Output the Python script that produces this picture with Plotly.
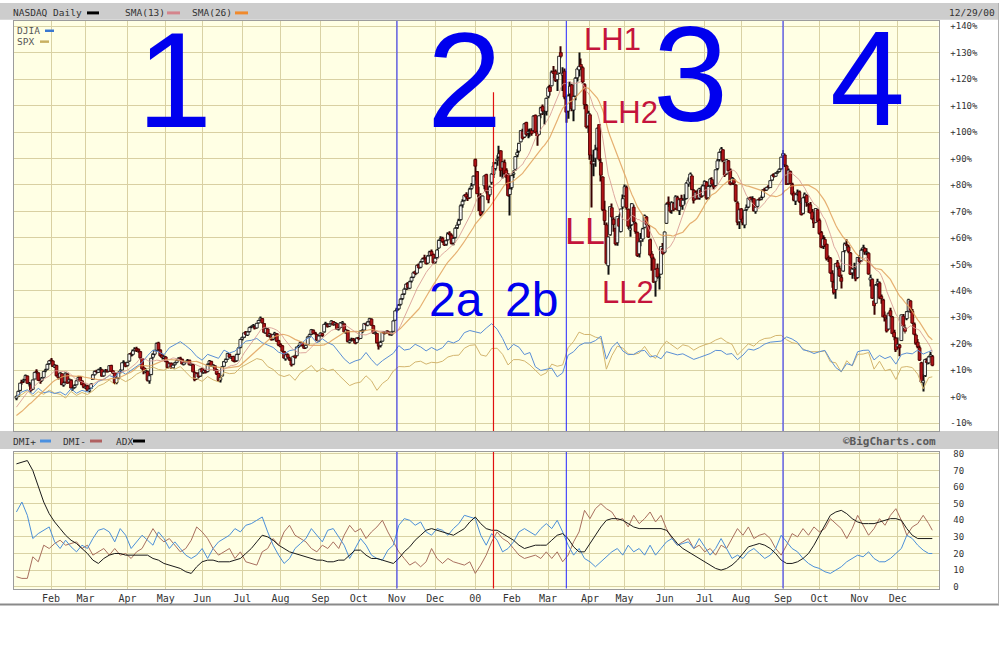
import numpy as np
import pandas as pd
import plotly.graph_objects as go

# ---------------- data (percent change vs. first close) ----------------
holidays = ['1999-01-18', '1999-02-15', '1999-04-02', '1999-05-31', '1999-07-05', '1999-09-06',
            '1999-11-25', '1999-12-24', '2000-01-17', '2000-02-21', '2000-04-21', '2000-05-29',
            '2000-07-04', '2000-09-04', '2000-11-23', '2000-12-25']

nq_close_prior = [-9.6, -9.2, -10.1, -10.8, -11.0, -12.4, -10.6, -9.3, -9.5, -8.9, -10.4, -9.8, -12.0,
                  -9.9, -9.2, -7.4, -6.0, -4.1, -4.3, -2.6, -2.2, -1.8, -1.5, -1.6, -0.7]

nq_open = [
    -0.6, 0.2, 2.4, 5.4, 5.9, 6.5, 7.8, 4.8, 4.5, 2.8, 6.7, 9.6, 9.0, 6.0, 6.2, 7.3, 9.8, 10.4, 12.5,
    13.8, 13.5, 11.2, 11.8, 8.2, 7.4, 8.7, 4.4, 5.6, 8.6, 5.6, 6.2, 3.0, 3.5, 4.5, 6.3, 7.4, 6.0, 4.9,
    3.4, 4.1, 2.2, 3.3, 6.5, 8.3, 9.6, 9.2, 10.3, 10.2, 7.9, 9.5, 10.1, 9.6, 11.8, 9.8, 9.0, 5.3, 7.1, 9.4, 10.1, 12.9, 12.7,
    11.8, 13.5, 16.3, 16.0, 17.5, 18.2, 17.9, 17.0, 14.4, 10.9, 9.4, 9.6, 6.0, 8.4, 14.9, 16.1, 17.6, 20.3, 17.6, 15.7, 14.6,
    15.0, 13.1, 11.2, 12.6, 10.9, 12.1, 12.9, 13.7, 14.6, 14.1, 12.2, 12.9, 13.2, 13.8, 11.9, 12.1, 9.2, 6.7, 8.9, 7.8,
    10.6, 9.1, 10.0, 9.5, 12.5, 13.3, 11.4, 11.7, 10.2, 8.8, 6.3, 7.9, 11.5, 13.1, 14.2, 16.0, 14.6, 15.2, 13.6, 13.6, 16.1, 18.6,
    21.8, 22.5, 24.4, 23.3, 24.6, 26.3, 26.8, 26.6, 26.0, 27.9, 29.0, 29.5, 27.6, 24.1, 25.6, 23.1, 23.5, 21.8, 23.6, 23.8, 21.2,
    19.7, 19.2, 17.0, 14.3, 15.9, 14.6, 13.7, 12.3, 15.4, 15.5, 18.9, 19.3, 20.4, 19.1, 18.5, 19.8, 22.7, 23.6, 25.1, 24.1, 23.5, 21.1,
    23.1, 23.8, 24.5, 27.5, 27.4, 26.7, 27.6, 28.4, 27.3, 27.6, 25.5, 26.2, 27.7, 27.5, 24.3, 25.0, 20.6, 21.5, 21.8, 21.2, 20.5,
    22.3, 22.0, 24.6, 25.2, 27.4, 27.0, 28.4, 29.3, 26.8, 23.8, 23.9, 20.2, 19.3, 21.0, 24.5, 24.1, 24.7, 24.0, 23.4, 24.7, 28.9,
    32.6, 33.2, 34.9, 37.1, 38.9, 40.8, 42.7, 41.0, 43.7, 45.2, 47.2, 46.7, 49.8, 48.9, 51.1, 52.4, 52.1, 50.5, 53.4, 54.9, 53.7,
    50.9, 52.6, 56.2, 59.3, 59.9, 58.4, 57.6, 59.3, 61.8, 61.0, 58.1, 60.2, 63.9, 65.1, 66.9, 72.5, 74.2, 76.5, 75.6, 75.2, 78.7, 80.1,
    89.6, 85.0, 76.0, 75.1, 70.0, 79.7, 83.9, 77.4, 76.3, 81.0, 84.0, 86.2, 89.2, 90.6, 92.9, 86.4, 88.5, 85.6, 83.8, 76.4,
    79.0, 84.0, 85.9, 91.3, 92.8, 96.3, 100.2, 98.1, 103.6, 99.6, 99.9, 100.6, 100.6, 106.3, 100.2, 99.1, 106.9, 109.6, 107.0, 107.8,
    113.5, 117.0, 117.5, 122.9, 123.0, 119.8, 122.3, 130.0, 121.5, 123.0, 112.5, 107.9, 114.4, 117.8, 108.3, 113.6, 120.5, 123.5, 125.5, 124.3, 118.0, 110.0, 102.3,
    106.5, 89.0, 88.0, 90.1, 94.0, 102.8, 88.5, 83.0, 70.5, 64.9, 49.5, 61.2, 71.4, 67.0, 63.5, 58.2, 67.3, 62.4, 71.7,
    75.9, 79.0, 70.8, 63.0, 65.0, 71.6, 65.5, 62.0, 54.0, 58.9, 59.6, 64.0, 67.9, 64.6, 59.3, 53.9, 52.1, 43.6, 48.5, 45.0, 46.3, 56.0,
    54.6, 65.5, 73.5, 72.6, 70.4, 73.0, 71.2, 75.2, 70.3, 74.9, 72.3, 74.5, 74.9, 80.4, 81.0, 83.4, 78.0, 74.8, 77.6, 75.1, 78.1, 75.9,
    79.9, 81.0, 75.2, 79.9, 82.0, 80.1, 79.8, 86.2, 89.6, 92.6, 93.3, 88.4, 84.2, 89.1, 85.6, 80.8, 82.0, 80.0, 73.2, 66.1,
    70.9, 67.2, 64.9, 70.8, 71.7, 75.2, 74.0, 74.8, 70.0, 71.9, 74.7, 74.6, 75.4, 78.4, 78.1, 79.4, 79.0, 81.9, 83.9, 83.3, 84.6, 85.1, 86.1,
    91.0, 91.3, 87.2, 80.5, 85.1, 80.2, 76.9, 73.9, 76.7, 77.4, 73.2, 69.3, 75.5, 76.1, 72.6, 72.5, 69.8, 67.3, 65.9, 70.6,
    66.6, 62.0, 56.9, 59.4, 57.6, 52.6, 52.2, 46.5, 43.2, 40.5, 50.6, 48.5, 45.0, 47.5, 55.2, 57.5, 56.6, 54.3, 46.8, 48.1, 48.2, 45.0,
    52.3, 51.4, 55.8, 56.0, 54.4, 54.2, 44.1, 44.3, 36.2, 35.3, 42.7, 43.0, 37.9, 36.5, 30.8, 29.4, 25.6, 32.5, 30.1, 24.3, 22.1,
    18.9, 19.5, 21.2, 30.4, 26.0, 29.5, 32.4, 36.2, 32.3, 27.4, 23.3, 20.6, 18.5, 12.8, 5.3, 8.0, 13.6, 12.8, 15.3, 15.2,
]
nq_high = [
    0.5, 2.3, 5.3, 6.4, 6.8, 8.4, 8.0, 5.6, 4.7, 6.5, 9.4, 10.4, 9.2, 6.6, 7.4, 9.7, 10.6, 12.5, 13.9,
    14.6, 13.9, 12.4, 12.1, 8.9, 9.2, 8.9, 5.8, 9.1, 8.8, 6.9, 6.6, 4.1, 4.7, 6.3, 7.7, 7.8, 6.3, 5.3,
    4.6, 4.5, 3.3, 5.1, 8.5, 9.9, 10.2, 10.6, 11.2, 10.6, 9.6, 10.5, 10.3, 12.0, 12.1, 10.1, 9.3, 7.3, 9.5, 10.5, 13.0, 13.8, 12.9,
    13.3, 16.4, 16.9, 17.8, 18.7, 18.9, 18.2, 17.3, 14.6, 11.5, 10.8, 9.8, 9.0, 14.7, 16.4, 17.7, 20.5, 20.8, 17.9, 16.2, 15.8,
    15.4, 13.5, 12.9, 12.9, 12.3, 13.0, 14.0, 14.9, 15.1, 14.3, 13.2, 13.6, 14.2, 14.0, 12.7, 12.4, 9.5, 9.1, 9.2, 10.6,
    10.9, 10.3, 10.2, 12.5, 13.9, 13.6, 12.3, 11.9, 10.5, 9.0, 7.6, 11.6, 13.5, 14.4, 16.6, 16.3, 15.4, 15.5, 14.0, 16.2, 18.7, 21.9,
    22.7, 24.3, 24.8, 24.7, 26.4, 26.9, 27.5, 26.8, 27.9, 29.0, 30.3, 29.7, 27.8, 26.2, 25.9, 24.1, 23.8, 23.7, 24.5, 24.0, 21.5,
    20.3, 19.5, 17.3, 16.3, 16.4, 15.1, 14.0, 15.5, 15.9, 18.9, 19.6, 20.8, 20.7, 19.3, 19.7, 22.8, 23.8, 25.6, 25.4, 24.5, 23.8, 23.2,
    24.3, 24.2, 27.6, 28.3, 27.7, 27.7, 28.9, 28.6, 28.2, 27.9, 26.3, 28.2, 28.6, 27.7, 25.6, 25.3, 21.7, 22.3, 22.2, 21.5, 22.4,
    22.6, 25.0, 25.6, 27.9, 28.0, 28.5, 29.8, 29.6, 27.1, 24.8, 24.1, 20.6, 21.1, 24.5, 24.8, 25.0, 25.1, 24.5, 24.7, 28.9, 32.7,
    33.6, 35.0, 37.2, 39.0, 41.2, 42.9, 43.3, 43.8, 45.4, 47.3, 47.7, 50.0, 50.3, 51.3, 52.5, 53.6, 52.8, 53.5, 55.1, 55.6, 54.1,
    52.8, 55.9, 59.4, 60.6, 60.4, 59.1, 59.4, 62.1, 62.5, 61.6, 60.3, 64.1, 65.9, 67.2, 72.6, 74.6, 76.5, 77.2, 76.3, 78.9, 80.7, 83.6,
    90.0, 85.3, 79.3, 76.9, 76.0, 83.6, 84.2, 78.8, 79.8, 84.4, 88.7, 88.8, 91.2, 94.8, 93.1, 89.0, 89.6, 86.3, 84.4, 78.8,
    83.9, 85.6, 90.9, 93.5, 95.9, 100.7, 101.2, 103.4, 103.9, 101.0, 101.3, 101.4, 106.3, 106.6, 100.6, 106.4, 109.5, 110.4, 108.3, 113.0,
    117.4, 117.9, 123.2, 124.9, 123.6, 122.1, 128.8, 132.4, 124.5, 124.0, 113.5, 114.3, 119.0, 118.2, 113.8, 120.8, 124.4, 130.0, 127.8, 124.8, 118.4, 110.6, 108.0,
    107.2, 91.5, 93.3, 95.2, 101.7, 103.0, 90.1, 83.3, 74.0, 65.8, 60.5, 71.9, 73.0, 67.8, 63.8, 68.2, 68.8, 71.0, 76.4,
    80.2, 79.8, 71.1, 66.0, 73.2, 72.5, 66.1, 62.4, 58.9, 61.8, 63.8, 68.8, 68.3, 65.0, 59.8, 55.0, 52.9, 48.4, 50.3, 46.6, 56.9, 58.1,
    62.4, 73.3, 75.6, 73.3, 73.8, 73.6, 76.1, 75.9, 74.8, 76.3, 74.9, 76.5, 81.1, 82.8, 84.7, 84.0, 78.5, 77.8, 78.2, 78.9, 79.4, 80.2,
    81.8, 81.5, 80.0, 82.6, 82.9, 81.0, 85.9, 89.8, 92.6, 94.3, 93.6, 88.8, 89.8, 89.4, 86.2, 83.0, 82.6, 80.3, 73.8, 71.1,
    71.3, 68.4, 70.7, 72.6, 75.3, 75.6, 75.7, 75.0, 72.1, 74.5, 75.3, 76.0, 78.4, 78.9, 79.3, 80.0, 81.8, 84.0, 84.4, 84.8, 85.4, 86.3, 90.7,
    93.2, 91.9, 87.6, 86.2, 85.4, 80.8, 77.6, 76.8, 78.3, 77.9, 73.4, 75.5, 77.1, 76.4, 73.2, 73.6, 70.9, 68.4, 71.3, 70.9,
    67.3, 62.6, 61.0, 60.3, 57.8, 53.3, 52.8, 47.8, 44.3, 50.4, 51.6, 49.6, 46.2, 54.9, 58.3, 59.5, 57.3, 54.7, 48.6, 50.6, 48.5, 52.8,
    53.5, 56.0, 57.4, 56.5, 56.1, 54.6, 46.2, 44.7, 37.0, 42.6, 44.6, 43.5, 38.6, 37.0, 32.2, 30.3, 31.8, 33.6, 30.5, 25.3, 22.6,
    22.4, 19.9, 31.1, 31.2, 27.3, 32.4, 37.0, 36.4, 33.1, 28.0, 23.9, 21.8, 19.3, 13.2, 8.6, 14.3, 14.5, 15.3, 16.9, 15.8,
]
nq_low = [
    -1.3, -0.1, 2.1, 4.5, 5.2, 6.2, 4.8, 3.9, 1.6, 2.5, 6.5, 8.7, 5.9, 4.9, 5.6, 7.0, 9.2, 10.1, 12.1,
    13.0, 11.2, 10.8, 7.6, 6.5, 7.0, 4.3, 3.8, 5.3, 4.9, 5.3, 3.0, 2.2, 3.1, 4.3, 6.0, 5.6, 4.3, 3.2,
    2.9, 2.1, 1.6, 3.0, 6.3, 8.0, 8.7, 9.0, 9.9, 7.5, 7.5, 9.1, 9.1, 9.4, 9.3, 8.6, 4.8, 4.7, 6.8, 8.9, 10.0, 12.3, 11.1,
    11.4, 13.2, 15.2, 15.5, 17.1, 16.9, 16.6, 14.2, 10.1, 8.5, 8.9, 5.7, 4.9, 8.1, 14.1, 15.6, 17.3, 17.4, 15.0, 14.1, 14.2,
    13.0, 10.6, 10.8, 10.5, 10.6, 11.7, 12.6, 13.4, 14.0, 12.1, 11.8, 12.6, 12.9, 11.8, 11.6, 9.1, 5.8, 6.3, 7.1, 7.5,
    8.8, 8.7, 8.8, 9.2, 12.1, 11.3, 11.0, 9.7, 8.2, 5.6, 5.4, 7.6, 11.2, 12.7, 14.0, 14.6, 14.2, 13.1, 12.9, 13.2, 15.8, 18.3,
    21.2, 22.2, 23.0, 22.9, 24.3, 25.9, 26.3, 25.4, 25.7, 27.6, 28.7, 27.6, 23.9, 23.8, 22.6, 22.4, 21.2, 21.3, 23.2, 20.7, 19.1,
    18.6, 16.9, 14.2, 13.6, 14.5, 13.5, 11.4, 11.9, 14.4, 15.2, 18.4, 19.0, 19.0, 18.0, 18.1, 19.5, 22.3, 23.3, 23.6, 23.4, 21.1, 20.6,
    22.8, 22.6, 24.2, 27.0, 26.1, 26.3, 27.3, 26.8, 26.9, 25.3, 25.0, 25.9, 27.4, 24.2, 23.8, 20.5, 20.1, 20.9, 20.9, 19.8, 20.2,
    21.3, 21.8, 24.1, 24.9, 26.8, 26.6, 28.1, 26.8, 23.7, 23.4, 20.1, 17.8, 18.6, 20.8, 23.5, 23.7, 23.8, 23.1, 23.0, 24.5, 28.7,
    31.8, 32.7, 34.4, 36.5, 38.4, 40.3, 40.5, 40.6, 43.1, 44.8, 45.9, 46.3, 48.2, 48.5, 50.7, 51.7, 49.9, 50.1, 53.0, 53.1, 50.1,
    50.3, 52.2, 55.9, 58.8, 58.1, 56.9, 57.0, 58.9, 60.6, 57.5, 57.2, 59.8, 63.4, 64.7, 66.5, 71.4, 73.7, 74.6, 73.9, 74.8, 78.2, 79.8,
    81.7, 76.5, 70.2, 68.2, 69.2, 78.4, 76.8, 73.1, 75.5, 80.1, 82.6, 85.5, 87.3, 90.0, 83.1, 82.4, 83.9, 79.9, 75.5, 68.5,
    78.2, 82.6, 85.4, 90.5, 92.1, 96.0, 97.1, 97.7, 98.4, 97.6, 98.2, 98.6, 100.1, 99.5, 94.8, 98.7, 105.2, 106.4, 102.8, 106.2,
    112.8, 113.8, 117.2, 120.4, 118.9, 115.5, 121.9, 127.9, 115.5, 112.4, 103.5, 105.0, 112.9, 107.8, 104.1, 112.0, 119.1, 121.0, 123.4, 118.3, 108.6, 101.3, 99.6,
    89.5, 71.5, 83.3, 86.9, 92.8, 88.9, 81.3, 70.2, 64.9, 50.0, 46.1, 60.8, 66.5, 62.3, 57.1, 57.0, 63.9, 62.0, 70.9,
    75.5, 70.6, 63.4, 60.4, 64.5, 65.5, 61.6, 52.8, 52.6, 56.8, 58.5, 63.5, 64.6, 60.0, 53.0, 47.6, 43.0, 37.8, 44.6, 40.5, 46.0, 53.5,
    54.2, 65.2, 71.7, 69.4, 69.1, 70.1, 70.7, 70.3, 68.6, 71.8, 70.6, 72.6, 74.6, 79.3, 80.4, 78.0, 73.0, 74.4, 74.5, 74.4, 75.2, 75.6,
    79.5, 74.4, 74.6, 79.1, 79.6, 78.4, 79.5, 85.6, 88.9, 92.0, 88.6, 83.0, 83.9, 85.0, 79.9, 80.1, 80.0, 73.5, 64.8, 63.4,
    66.5, 64.8, 63.6, 70.2, 71.3, 73.8, 73.5, 70.0, 69.1, 71.5, 74.0, 74.2, 75.1, 77.6, 77.8, 78.6, 78.8, 81.6, 82.7, 83.0, 84.2, 84.8, 85.8,
    90.4, 86.8, 80.0, 80.1, 80.3, 75.9, 73.8, 72.4, 75.8, 73.2, 68.5, 68.9, 73.9, 71.8, 69.5, 69.2, 66.7, 63.7, 65.7, 66.0,
    61.2, 56.1, 55.8, 56.6, 51.5, 50.9, 46.4, 41.2, 38.6, 37.0, 47.9, 45.2, 40.9, 47.2, 54.5, 56.3, 54.2, 46.0, 44.6, 45.7, 43.6, 44.7,
    50.0, 51.0, 54.9, 53.6, 53.4, 46.1, 41.6, 36.9, 31.0, 35.0, 41.4, 36.8, 35.1, 30.0, 28.4, 24.3, 25.3, 30.1, 23.6, 21.3, 16.9,
    17.9, 15.3, 21.0, 26.4, 23.9, 28.9, 32.1, 31.6, 27.5, 23.2, 19.6, 18.3, 13.5, 5.2, 2.0, 7.4, 12.1, 12.3, 14.9, 11.5,
]
nq_close = [
    0.0, 2.0, 5.1, 5.3, 6.2, 8.0, 5.1, 4.9, 2.4, 6.3, 9.1, 9.4, 6.2, 5.9, 7.0, 9.5, 10.1, 12.2, 13.5,
    13.7, 11.5, 11.9, 7.9, 7.2, 8.9, 4.6, 5.2, 8.9, 5.1, 6.4, 3.3, 3.3, 4.2, 6.0, 7.2, 5.9, 4.6, 3.6,
    3.9, 2.4, 2.8, 4.8, 8.2, 9.5, 9.4, 10.1, 10.5, 7.8, 9.3, 9.9, 9.4, 11.7, 9.6, 9.1, 5.1, 7.0, 9.1, 9.6, 12.8, 12.9, 11.5,
    12.9, 16.1, 16.1, 17.3, 18.0, 17.4, 17.3, 14.7, 10.6, 9.6, 9.9, 6.2, 7.9, 14.5, 15.9, 17.3, 20.1, 17.8, 15.5, 14.8, 15.1,
    13.3, 11.0, 12.5, 10.8, 11.9, 12.7, 13.6, 14.5, 14.3, 12.4, 12.8, 13.1, 13.7, 12.1, 12.3, 9.4, 6.4, 8.7, 7.5, 10.4,
    9.3, 9.8, 9.2, 12.2, 13.5, 11.6, 11.9, 10.0, 8.6, 6.1, 7.2, 11.3, 13.2, 14.0, 16.3, 14.9, 15.0, 13.5, 13.3, 15.9, 18.4, 21.6,
    22.4, 24.1, 23.5, 24.4, 26.1, 26.5, 26.9, 25.9, 27.7, 28.8, 29.7, 27.9, 24.3, 25.8, 22.9, 23.7, 21.5, 23.4, 24.0, 21.0, 19.5,
    19.0, 17.2, 14.6, 15.8, 14.9, 13.9, 12.0, 15.2, 14.8, 18.7, 19.1, 20.5, 19.3, 18.3, 19.4, 22.5, 23.4, 25.3, 23.9, 23.8, 21.4, 22.9,
    24.0, 23.1, 27.3, 27.6, 26.5, 27.4, 28.6, 27.2, 27.8, 25.6, 25.9, 27.9, 28.1, 24.5, 25.2, 20.9, 21.2, 21.6, 21.4, 20.2, 22.1,
    21.8, 24.8, 25.0, 27.6, 27.2, 28.2, 29.5, 27.0, 24.0, 24.2, 20.4, 19.1, 20.5, 24.3, 23.9, 24.6, 24.1, 23.6, 24.4, 28.6, 32.4,
    33.0, 34.5, 36.8, 38.6, 40.6, 42.5, 41.2, 43.4, 45.0, 46.8, 46.5, 49.6, 48.7, 50.8, 52.0, 52.3, 50.3, 53.1, 54.7, 53.5, 50.6,
    52.3, 55.4, 59.0, 59.8, 58.6, 57.3, 58.9, 61.5, 61.2, 57.9, 59.8, 63.6, 64.8, 66.5, 72.1, 73.8, 76.0, 75.4, 74.8, 78.4, 79.6, 83.3,
    87.1, 76.7, 75.6, 68.8, 75.8, 83.4, 77.6, 74.4, 79.2, 84.1, 87.1, 88.0, 89.7, 91.8, 85.5, 88.7, 84.3, 82.9, 76.0, 78.5,
    83.5, 84.5, 90.7, 92.2, 95.7, 100.5, 97.6, 103.1, 99.1, 100.1, 100.2, 99.4, 106.0, 99.8, 98.5, 106.1, 109.1, 107.9, 107.3, 112.7,
    116.7, 115.3, 122.6, 122.1, 119.5, 121.8, 128.6, 128.6, 122.2, 113.2, 107.5, 113.6, 117.3, 108.8, 113.4, 120.3, 123.8, 124.8, 124.6, 118.9, 110.4, 101.9, 107.1,
    91.3, 87.9, 88.8, 93.3, 101.4, 89.7, 83.7, 70.7, 66.5, 50.4, 60.3, 71.8, 67.9, 65.1, 57.7, 68.1, 64.4, 70.9, 74.8,
    79.3, 71.4, 64.4, 63.6, 72.9, 66.2, 62.4, 53.3, 58.5, 59.8, 63.4, 68.4, 65.1, 60.3, 53.5, 52.4, 43.3, 48.1, 45.2, 45.2, 56.7, 54.0,
    62.2, 72.7, 73.1, 70.1, 73.3, 70.6, 75.5, 70.6, 74.4, 72.0, 74.2, 74.8, 80.7, 81.8, 84.1, 78.3, 74.2, 77.2, 74.8, 78.5, 75.6, 79.6,
    81.3, 75.0, 79.4, 82.2, 80.3, 79.2, 85.7, 89.1, 92.3, 93.6, 89.2, 83.7, 89.5, 85.4, 80.3, 82.5, 80.6, 74.0, 65.9, 70.6,
    66.9, 65.7, 70.3, 71.5, 75.0, 74.3, 74.5, 70.3, 71.6, 74.3, 74.4, 75.1, 78.0, 78.0, 79.0, 79.3, 81.6, 83.6, 83.1, 84.3, 84.9, 85.9, 90.5,
    91.8, 87.6, 80.2, 85.6, 80.6, 76.5, 74.3, 76.3, 77.2, 73.7, 68.8, 75.1, 76.5, 73.4, 72.3, 69.4, 67.1, 65.6, 71.1, 66.3,
    61.6, 56.5, 59.6, 57.2, 52.2, 52.0, 46.8, 43.5, 39.3, 50.2, 49.0, 45.6, 43.6, 54.8, 57.7, 57.1, 54.9, 46.3, 48.2, 48.5, 44.5, 52.6,
    51.0, 55.3, 56.3, 54.7, 54.7, 46.4, 44.9, 37.2, 34.4, 42.1, 43.4, 37.3, 37.1, 30.2, 30.0, 24.8, 31.5, 30.5, 23.9, 22.6, 17.7,
    19.8, 18.5, 30.9, 26.7, 24.7, 32.1, 36.6, 32.8, 27.8, 23.6, 20.2, 18.9, 13.8, 5.6, 6.0, 14.0, 12.9, 15.0, 15.8, 11.9,
]

# comparison lines, read every 3rd trading day (plus the last day)
djia_pct = [
    0.0, 1.8, 2.6, 1.0, 3.2, 1.5, 1.9, 1.2, 1.8, 0.6, 3.0, 1.3, 2.4,
    1.8, 3.6, 5.8, 6.5, 8.0, 7.3, 9.8, 8.5, 10.0, 11.6, 12.9, 15.5, 17.6, 17.0, 15.8,
    18.5, 19.7, 20.8, 19.3, 17.6, 15.2, 13.8, 16.0, 15.1, 14.5, 17.6, 16.5, 17.2, 19.3,
    21.0, 21.3, 22.0, 20.4, 19.5, 18.6, 16.8, 16.1, 17.4, 17.8, 19.6, 21.7, 22.8, 20.3,
    21.9, 20.4, 19.5, 17.1, 14.3, 12.5, 13.5, 14.1, 16.7, 14.0, 11.8, 13.6, 15.0, 16.4,
    19.3, 17.6, 18.0, 19.8, 18.8, 17.3, 18.6, 17.5, 18.5, 21.0, 20.3, 21.3, 24.2, 25.0,
    24.5, 24.0, 25.9, 27.6, 25.5, 22.0, 17.6, 19.8, 18.7, 15.9, 16.7, 11.3, 9.9, 10.3,
    10.8, 7.5, 9.0, 15.7, 17.0, 19.3, 20.3, 20.3, 21.2, 22.9, 14.2, 18.6, 20.6, 17.3,
    15.9, 16.0, 17.2, 17.5, 15.0, 15.5, 14.3, 17.0, 16.4, 15.8, 16.2, 15.0, 14.1, 14.8,
    15.5, 16.3, 17.5, 17.4, 16.0, 16.3, 14.0, 15.7, 18.0, 17.6, 18.5, 19.9, 20.6, 20.8, 21.0,
    22.6, 21.8, 20.5, 17.7, 17.3, 16.3, 17.0, 17.5, 14.0, 11.0, 9.5, 12.5, 11.8, 17.0,
    17.5, 17.6, 13.9, 15.6, 14.4, 15.2, 12.3, 15.9, 16.5, 16.2, 17.6, 16.1, 17.0, 17.5,
]
spx_pct = [
    0.0, 0.8, 2.3, 0.2, 1.9, 0.9, 2.5, 1.4, 0.9, -0.5, 2.0, 0.5, 1.6,
    0.8, 2.2, 4.0, 4.9, 6.3, 4.6, 6.9, 5.7, 6.8, 8.5, 9.7, 10.6, 11.2, 10.3, 10.0,
    11.0, 10.4, 11.4, 9.3, 7.2, 6.8, 5.8, 7.6, 6.4, 5.6, 9.3, 8.7, 8.9, 11.0,
    12.2, 13.3, 14.4, 13.9, 11.4, 10.3, 8.3, 7.6, 8.3, 6.2, 9.0, 10.3, 11.8, 9.4,
    10.8, 9.8, 10.4, 8.2, 6.0, 4.2, 5.1, 5.5, 7.9, 6.0, 2.4, 5.0, 6.5, 9.7,
    11.4, 11.3, 11.5, 13.1, 13.4, 12.3, 13.0, 12.8, 13.4, 15.0, 15.6, 15.7, 18.3, 19.4,
    19.6, 15.8, 15.3, 18.2, 18.3, 16.0, 12.0, 14.0, 14.0, 13.5, 12.0, 10.0, 8.0, 9.0,
    12.3, 11.5, 12.0, 18.5, 20.9, 24.4, 23.5, 23.5, 22.5, 22.0, 10.4, 15.5, 19.1, 18.4,
    16.2, 15.9, 16.5, 19.0, 15.9, 14.5, 18.4, 21.0, 19.5, 18.0, 19.6, 19.1, 17.6, 18.8,
    19.6, 20.2, 21.4, 22.2, 20.7, 19.8, 15.7, 18.0, 20.0, 19.1, 21.1, 22.0, 22.2, 23.1, 23.2,
    21.5, 20.4, 20.0, 18.1, 17.0, 16.9, 17.0, 17.3, 13.2, 12.8, 9.3, 13.6, 11.6, 16.0,
    16.1, 16.7, 10.4, 13.4, 9.8, 10.4, 6.5, 11.1, 11.4, 11.0, 8.5, 3.0, 7.2, 7.5,
]
dmi_plus = [
    45, 51, 43, 29, 32, 34, 36, 27, 23, 28, 24, 21, 25, 23, 29, 34, 35, 33, 27, 35, 31, 23, 27, 31, 28,
    25, 33, 29, 23, 27, 23, 19, 17, 19, 23, 17, 23, 27, 29, 31, 35, 33, 37, 38, 40, 42, 33, 25, 19, 14,
    17, 23, 26, 29, 35, 31, 27, 34, 35, 30, 25, 17, 23, 29, 25, 19, 17, 16, 22, 25, 37, 41, 40, 37, 39,
    33, 31, 35, 34, 31, 35, 38, 43, 42, 41, 31, 25, 32, 28, 21, 23, 27, 33, 35, 33, 31, 35, 38, 35, 40,
    33, 25, 19, 23, 17, 15, 12, 15, 18, 21, 23, 19, 25, 21, 23, 19, 25, 19, 23, 27, 29, 25, 26, 27, 23,
    29, 24, 19, 23, 29, 23, 17, 19, 17, 21, 23, 20, 17, 19, 23, 31, 27, 23, 21, 17, 14, 12, 11, 9, 8,
    10, 12, 15, 17, 19, 18, 21, 17, 15, 15, 17, 20, 23, 31, 29, 25, 22, 20, 20,
]
dmi_minus = [
    6, 5, 5, 18, 15, 25, 23, 26, 28, 25, 26, 27, 23, 25, 19, 21, 23, 19, 23, 19, 20, 17, 21, 23, 29,
    35, 30, 27, 29, 25, 21, 23, 28, 36, 33, 29, 23, 19, 21, 23, 17, 21, 15, 14, 13, 21, 23, 29, 25, 33,
    37, 31, 29, 27, 23, 21, 25, 23, 27, 23, 31, 37, 33, 35, 29, 33, 36, 40, 33, 27, 21, 17, 13, 15, 12,
    15, 23, 17, 14, 17, 15, 14, 13, 15, 8, 13, 19, 27, 33, 29, 27, 23, 19, 17, 18, 19, 17, 21, 17, 21,
    15, 19, 27, 33, 46, 41, 47, 50, 47, 45, 40, 41, 36, 43, 38, 41, 45, 39, 43, 35, 29, 25, 27, 29, 23,
    25, 21, 23, 19, 25, 23, 29, 35, 31, 36, 29, 31, 32, 29, 23, 19, 25, 32, 30, 35, 31, 36, 33, 35, 41,
    38, 35, 29, 35, 43, 37, 31, 35, 41, 37, 43, 47, 40, 31, 36, 38, 43, 38, 34,
]
adx = [
    74, 75, 76, 70, 61, 51, 44, 39, 35, 31, 28, 26, 23, 20, 16, 14, 17, 19, 20, 20, 19, 19, 19, 19, 19,
    17, 16, 14, 13, 12, 11, 9, 8, 12, 15, 16, 16, 15, 15, 15, 16, 17, 20, 23, 27, 31, 30, 28, 25, 23,
    21, 20, 19, 18, 17, 16, 16, 15, 15, 16, 16, 19, 22, 22, 19, 17, 17, 16, 15, 14, 17, 21, 24, 28, 31,
    34, 35, 34, 33, 32, 31, 33, 35, 39, 42, 38, 35, 34, 34, 32, 30, 28, 25, 23, 24, 25, 25, 25, 28, 31,
    32, 29, 24, 21, 21, 26, 31, 36, 40, 41, 41, 40, 38, 36, 35, 35, 35, 35, 35, 34, 30, 26, 23, 21, 19,
    17, 15, 13, 11, 10, 11, 13, 16, 20, 24, 25, 26, 25, 23, 20, 16, 14, 14, 15, 17, 20, 25, 31, 37, 43,
    45, 46, 44, 41, 39, 38, 38, 38, 39, 40, 41, 41, 40, 35, 31, 29, 29, 29, 29,
]

phase_dates = ['1999-11-01', '2000-03-15', '2000-09-01']
dow_top_date = '2000-01-18'
y_pct_ticks = list(range(-10, 141, 10))
dmi_ticks = list(range(0, 81, 10))

# ---------------- geometry & style ----------------
W, H = 1000, 666
def px(x): return x / W
def py(y): return 1 - y / H

GRID = '#d9d2a4'
FRAME = '#9c9c9c'
PLOT_BG = '#ffffe4'
BAR = '#cdcdcd'
TXT = '#333333'
MONO = 'DejaVu Sans Mono'
BLUE_TXT = '#0000ee'
RED_TXT = '#c4143c'

# trading days
days = pd.bdate_range('1999-01-04', '2000-12-29')
days = days[~days.isin(pd.to_datetime(holidays))]
n = len(days)
idx = np.arange(n)
line_idx = list(range(0, n, 3)) + [n - 1]

def day_pos(d):
    return int(days.get_loc(pd.Timestamp(d)))

closes_all = pd.Series(nq_close_prior + nq_close)
sma13 = closes_all.rolling(13).mean().iloc[len(nq_close_prior):].values
sma26 = closes_all.rolling(26).mean().iloc[len(nq_close_prior):].values

o = np.array(nq_open); h = np.array(nq_high); l = np.array(nq_low); c = np.array(nq_close)
up = c >= o
body_lo = np.minimum(o, c)
body_h = np.maximum(np.abs(c - o), 0.2)

month_first = [i for i in range(1, n) if days[i].month != days[i - 1].month]
month_lbl = ['00' if days[i].month == 1 else days[i].strftime('%b') for i in month_first]

fig = go.Figure()
# candle wicks and bodies (bars, so the body width can be set like the original)
fig.add_trace(go.Bar(x=idx, y=h - l, base=l, width=0.55,
                     marker=dict(color=np.where(up, '#111111', '#3a0000'), line=dict(width=0)),
                     hoverinfo='skip', xaxis='x', yaxis='y'))
fig.add_trace(go.Bar(x=idx, y=body_h, base=body_lo, width=1.6,
                     marker=dict(color=np.where(up, '#f6f6f2', '#b01418'),
                                 line=dict(color=np.where(up, '#111111', '#4a0000'), width=0.8)),
                     hoverinfo='skip', xaxis='x', yaxis='y'))
fig.add_trace(go.Scatter(x=line_idx, y=spx_pct, mode='lines', line=dict(color='#d3b56e', width=1),
                         hoverinfo='skip', xaxis='x', yaxis='y'))
fig.add_trace(go.Scatter(x=line_idx, y=djia_pct, mode='lines', line=dict(color='#5a8fd6', width=1),
                         hoverinfo='skip', xaxis='x', yaxis='y'))
fig.add_trace(go.Scatter(x=idx, y=sma26, mode='lines', line=dict(color='#e2a35e', width=1.2),
                         opacity=0.85, hoverinfo='skip', xaxis='x', yaxis='y'))
fig.add_trace(go.Scatter(x=idx, y=sma13, mode='lines', line=dict(color='#d99a94', width=1),
                         opacity=0.85, hoverinfo='skip', xaxis='x', yaxis='y'))

fig.add_trace(go.Scatter(x=line_idx, y=dmi_minus, mode='lines', line=dict(color='#a86f5e', width=1),
                         hoverinfo='skip', xaxis='x2', yaxis='y2'))
fig.add_trace(go.Scatter(x=line_idx, y=dmi_plus, mode='lines', line=dict(color='#4b8fd8', width=1),
                         hoverinfo='skip', xaxis='x2', yaxis='y2'))
fig.add_trace(go.Scatter(x=line_idx, y=adx, mode='lines', line=dict(color='#1a1a1a', width=1),
                         hoverinfo='skip', xaxis='x2', yaxis='y2'))

X_DOM = [px(13.5), px(938.5)]
X_RANGE = [-1.6, 506.4]
Y1_RANGE = [-13.0, 142.0]
Y2_RANGE = [-1.2, 81.2]

common_x = dict(domain=X_DOM, range=X_RANGE, tickvals=month_first, showgrid=True, gridcolor=GRID,
                gridwidth=1, zeroline=False, showline=True, linecolor=FRAME, linewidth=1, mirror=True,
                ticks='', fixedrange=True)
fig.update_layout(
    width=W, height=H, margin=dict(l=0, r=0, t=0, b=0),
    paper_bgcolor='white', plot_bgcolor=PLOT_BG, showlegend=False, barmode='overlay',
    xaxis=dict(common_x, anchor='y', showticklabels=False),
    xaxis2=dict(common_x, anchor='y2', ticktext=month_lbl, showticklabels=True,
                tickfont=dict(family=MONO, size=10, color=TXT)),
    yaxis=dict(domain=[py(432), py(18)], anchor='x', side='right', range=Y1_RANGE,
               tickvals=y_pct_ticks, ticktext=[('+%d%%' % v) if v >= 0 else ('%d%%' % v) for v in y_pct_ticks],
               showgrid=True, gridcolor=GRID, zeroline=False, showline=True, linecolor=FRAME, mirror=True,
               ticks='', ticklabelstandoff=9, tickfont=dict(family=MONO, size=9, color=TXT), fixedrange=True),
    yaxis2=dict(domain=[py(591), py(453)], anchor='x2', side='right', range=Y2_RANGE,
                tickvals=dmi_ticks, showgrid=True, gridcolor=GRID, zeroline=False, showline=True,
                linecolor=FRAME, mirror=True, ticks='', ticklabelstandoff=12,
                tickfont=dict(family=MONO, size=9, color=TXT), fixedrange=True),
)

shapes = []
shapes.append(dict(type='rect', xref='paper', yref='paper', x0=0, x1=px(998), y0=py(17), y1=1,
                   fillcolor=BAR, line=dict(width=0), layer='below'))
shapes.append(dict(type='rect', xref='paper', yref='paper', x0=0, x1=px(998), y0=py(450), y1=py(432),
                   fillcolor=BAR, line=dict(width=0), layer='below'))
shapes.append(dict(type='line', xref='paper', yref='paper', x0=0, x1=px(999), y0=py(607), y1=py(607),
                   line=dict(color='#8a8a8a', width=2)))
shapes.append(dict(type='line', xref='paper', yref='paper', x0=px(998.5), x1=px(998.5), y0=py(607), y1=1,
                   line=dict(color='#b0b0b0', width=1)))

def swatch(x0, x1, yc, color, t=3):
    shapes.append(dict(type='rect', xref='paper', yref='paper', x0=px(x0), x1=px(x1),
                       y0=py(yc + t / 2), y1=py(yc - t / 2), fillcolor=color, line=dict(width=0)))

swatch(87, 99, 10, '#000000')
swatch(167, 180, 10, '#d4848c')
swatch(235, 248, 10, '#f08a2c')
swatch(45, 54, 28, '#3a78d0', 2.5)
swatch(40, 49, 39, '#c8b060', 2.5)
swatch(40, 51, 442, '#4a90e0')
swatch(90, 102, 442, '#b06060')
swatch(133, 145, 442, '#000000')

for d in phase_dates:
    i = day_pos(d)
    shapes.append(dict(type='line', xref='x', yref='y', x0=i, x1=i, y0=Y1_RANGE[0], y1=Y1_RANGE[1],
                       line=dict(color='#2424ff', width=1)))
    shapes.append(dict(type='line', xref='x2', yref='y2', x0=i, x1=i, y0=Y2_RANGE[0], y1=Y2_RANGE[1],
                       line=dict(color='#2424ff', width=1)))
i = day_pos(dow_top_date)
shapes.append(dict(type='line', xref='x', yref='y', x0=i, x1=i, y0=Y1_RANGE[0], y1=115,
                   line=dict(color='#e01010', width=1.2)))
shapes.append(dict(type='line', xref='x2', yref='y2', x0=i, x1=i, y0=Y2_RANGE[0], y1=Y2_RANGE[1],
                   line=dict(color='#e01010', width=1.2)))

annotations = []
def txt(x, y, s, size, color, family=MONO, xanchor='left', bold=False):
    annotations.append(dict(xref='paper', yref='paper', x=px(x), y=py(y), text=('<b>%s</b>' % s) if bold else s,
                            showarrow=False, xanchor=xanchor, yanchor='middle', borderpad=0,
                            font=dict(family=family, size=size, color=color)))

txt(12, 10, 'NASDAQ Daily', 9.5, TXT)
txt(124, 10, 'SMA(13)', 9.5, TXT)
txt(191, 10, 'SMA(26)', 9.5, TXT)
txt(996, 10, '12/29/00', 9.5, TXT, xanchor='right')
txt(16, 28, 'DJIA', 9.5, '#555555')
txt(16, 39, 'SPX', 9.5, '#555555')
txt(12, 442, 'DMI+', 9.5, TXT)
txt(62, 442, 'DMI-', 9.5, TXT)
txt(115, 442, 'ADX', 9.5, TXT)
txt(937, 442, '©BigCharts.com', 11, '#5a5a5a', xanchor='right', bold=True)

SANS = 'Liberation Sans'
txt(174, 78, '1', 135, BLUE_TXT, SANS, 'center')
txt(464, 78, '2', 135, BLUE_TXT, SANS, 'center')
txt(690, 72, '3', 135, BLUE_TXT, SANS, 'center')
txt(867, 76, '4', 135, BLUE_TXT, SANS, 'center')
txt(456, 299, '2a', 48, BLUE_TXT, SANS, 'center')
txt(531, 299, '2b', 48, BLUE_TXT, SANS, 'center')
txt(612, 37, 'LH1', 31, RED_TXT, SANS, 'center')
txt(629, 110, 'LH2', 31, RED_TXT, SANS, 'center')
txt(585, 231, 'LL', 36, RED_TXT, SANS, 'center')
txt(628, 292, 'LL2', 31, RED_TXT, SANS, 'center')

fig.update_layout(shapes=shapes, annotations=annotations)
fig.write_html('out.html', config={'displayModeBar': False},
               post_script="document.body.style.margin='0px';document.body.style.padding='0px';")
